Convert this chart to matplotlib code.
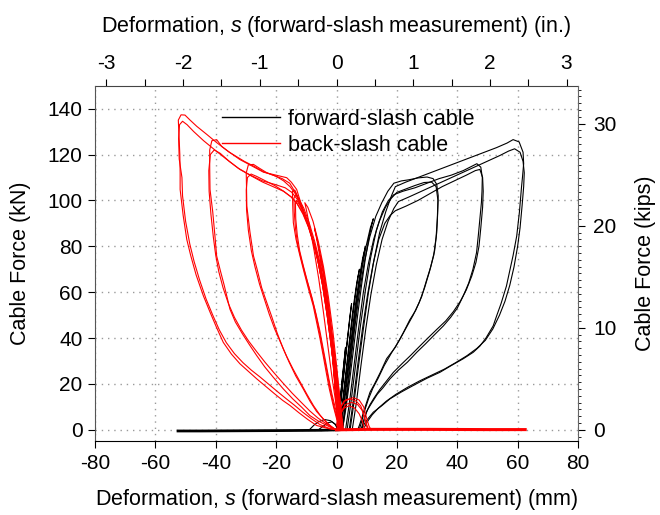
import matplotlib
matplotlib.use('Agg')
import matplotlib.pyplot as plt
from matplotlib.ticker import MultipleLocator
from matplotlib.lines import Line2D

plt.rcParams['font.family'] = ['Liberation Sans', 'DejaVu Sans']
plt.rcParams['mathtext.fontset'] = 'custom'
plt.rcParams['mathtext.it'] = 'Liberation Sans:italic'
plt.rcParams['mathtext.rm'] = 'Liberation Sans'
plt.rcParams['axes.unicode_minus'] = False

# ---------------- data (deformation mm, force kN) ----------------
x_ticks_mm = [-80, -60, -40, -20, 0, 20, 40, 60, 80]
y_ticks_kN = [0, 20, 40, 60, 80, 100, 120, 140]
x_ticks_in = [-3, -2, -1, 0, 1, 2, 3]
y_ticks_kips = [0, 10, 20, 30]
legend_labels = ["forward-slash cable", "back-slash cable"]

# forward-slash cable (black)
fwd_c01 = [(0,0),(0.8,8),(1.6,18),(2.4,28),(3.0,36),(2.6,31),(1.9,22),(1.2,12),(0.5,3),(0,0)]
fwd_c02 = [(0.3,0),(1.2,10),(2.2,22),(3.2,34),(4.2,46),(5.0,55),(4.4,49),(3.5,38),(2.6,27),(1.6,14),(0.8,4),(0.3,0)]
fwd_c03 = [(0.8,0),(1.8,10),(3.0,24),(4.2,38),(5.4,52),(6.6,63),(7.6,70),(7.0,66),(6.0,56),(4.9,44),(3.8,31),(2.6,17),(1.6,6),(0.8,0)]
fwd_c04 = [(1.2,0),(2.4,12),(3.6,26),(4.9,40),(6.2,54),(7.5,66),(8.7,75),(9.6,80),(9.0,76),(8.0,68),(6.8,57),(5.6,44),(4.3,30),(3.0,16),(1.9,5),(1.2,0)]
fwd_c05 = [(1.8,0),(3.0,12),(4.3,27),(5.6,42),(7.0,57),(8.4,70),(9.8,80),(11.2,88),(12.2,92),(11.8,90),(10.8,84),(9.6,75),(8.4,64),(7.1,51),(5.8,37),(4.5,23),(3.2,10),(2.2,2),(1.8,0)]
fwd_a32_1 = [(2.0,0),(3.2,12),(4.6,28),(6.0,44),(7.6,60),(9.2,73),(11.0,84),(13.0,93),(15.0,99),(17.0,104),(19.0,107.5),(21.5,108.5),(24,109),(27,109.8),(30,110.2),(32,109.5),(33.2,107),(33.7,102),(33.5,94),(33.2,86),(32.5,78),(31.2,71),(29.9,65.5),(28.2,58),(26.2,52),(24.3,48),(22,42),(19.5,36),(16.6,31),(14.5,25),(12.6,20),(11.1,16.4),(10,12),(9,8),(8.3,4.8),(7.6,2),(7,0)]
fwd_a32_2 = [(3.0,0),(4.3,12),(5.8,28),(7.3,44),(8.9,60),(10.5,72),(12.3,83),(14.2,91),(16.2,97),(18.2,101),(20,103.5),(23,105),(26,106.5),(29,107.8),(31.5,108),(33,106),(33.6,100),(33.4,92),(33,84),(32.2,76),(30.8,69),(29.2,62),(27.4,55.5),(25.4,50),(23.3,45),(20.8,39),(18.2,33.5),(15.8,28),(13.8,22.5),(12,18),(10.6,13.5),(9.6,9.5),(8.8,6),(8.1,2.5),(7.5,0)]
fwd_a47_1 = [(3.5,0),(4.8,12),(6.3,28),(7.9,45),(9.6,61),(11.3,75),(13.2,87),(15.2,95),(17.2,100),(19,102.5),(22,104),(26,105.5),(30,107.5),(34,109.5),(38,111),(42,113),(45,115),(46.5,116),(47.8,114.5),(48.3,110),(48.2,104),(48,99),(47.5,92),(47,85),(46.4,77.3),(45.2,70),(43.8,64),(42,58.4),(40,53),(37.8,49),(35.4,45.3),(32.5,41.5),(29.5,37.5),(26.6,33.8),(23.5,29.5),(20.5,26),(17.7,22.2),(15.5,18.5),(13.5,15.5),(11.8,12),(10.4,9),(9.4,6),(8.9,3.5),(8.3,1),(7.8,0)]
fwd_a47_2 = [(4.2,0),(5.5,12),(7.0,28),(8.6,44),(10.3,59),(12.1,72),(14.0,83),(16,90),(17.8,93.5),(19.5,95.5),(23,97.5),(27,100),(31,103),(35,106),(39,108.5),(43,111),(46,113),(47.5,113.5),(48.4,110),(48.6,104),(48.4,97),(47.8,88),(47.2,80),(46.2,73),(44.8,67),(43,61),(41,56),(38.7,51.5),(36.2,47.5),(33.4,44),(30.5,40.3),(27.6,36.5),(24.6,32.5),(21.6,28.7),(18.8,25),(16.4,21),(14.3,17.5),(12.5,14),(11.1,11),(10.0,8),(9.3,5),(8.8,2),(8.4,0)]
fwd_a62_1 = [(4.5,0),(5.8,12),(7.3,28),(8.9,44),(10.6,60),(12.4,74),(14.3,86),(16.3,95),(18.2,102),(19.5,106),(23,108),(28,110.5),(33,113),(38,115.5),(43,118),(48,120.5),(53,123),(56.5,125),(58.5,126.5),(60.5,125.5),(61.8,121),(62,116),(61.6,110),(61.3,106),(60.6,95),(59.7,84.5),(58.5,76),(57.5,70),(56.3,62.7),(54.5,55),(53,49.5),(51.9,45.3),(49.5,40),(47.5,36.5),(45.3,33.8),(42,31),(38,28),(34.3,25.1),(30,22.5),(25.4,19.3),(21.5,16.5),(17.7,13.5),(15,10.5),(12.2,7.7),(10.5,5),(8.9,1.9),(8.3,0)]
fwd_a62_2 = [(5.2,0),(6.6,12),(8.1,28),(9.7,44),(11.4,59),(13.2,72),(15.1,83),(17.1,91),(19,96.5),(20.5,99.5),(24,101.5),(29,104.5),(34,107.5),(39,110.5),(44,113.5),(49,116.5),(54,119.5),(57,121.5),(59,122.5),(60.8,121),(61.8,117),(62.2,112),(62,106),(61.5,98),(60.8,88),(60,80),(58.8,71),(57.4,63),(55.8,56),(54,50),(51.8,44),(49.3,39),(46.5,35.5),(43.2,32.3),(39.5,29.3),(35.8,26.5),(31.8,24),(27.5,21.3),(23.5,18.5),(19.7,15.5),(16.5,12.5),(13.9,9.5),(11.8,6.5),(10.2,3.5),(9.2,1),(8.8,0)]
fwd_neg1 = [(-9,0),(-7.5,2),(-6,3.5),(-4,4.5),(-2,4),(-0.5,2.5),(0.5,0)]
fwd_neg2 = [(-6,0),(-4.5,1.5),(-3,3),(-1.5,3.5),(0,2),(1,0)]
fwd_slack = [(0.5,0),(-5,-0.2),(-15,-0.3),(-30,-0.4),(-45,-0.5),(-52.5,-0.5)]

# back-slash cable (red)
bck_c01 = [(0.5,0),(0,10),(-0.6,20),(-1.2,30),(-1.8,38),(-1.4,33),(-0.8,24),(-0.2,13),(0.3,4),(0.5,0)]
bck_c02 = [(1,0),(0.4,12),(-0.4,25),(-1.3,38),(-2.3,50),(-3.2,58),(-2.7,53),(-1.8,43),(-0.9,30),(0,17),(0.7,5),(1,0)]
bck_c03 = [(1.3,0),(0.6,12),(-0.3,26),(-1.4,40),(-2.6,54),(-3.9,66),(-5.2,75),(-4.7,71),(-3.6,61),(-2.4,48),(-1.2,33),(-0.1,18),(0.8,6),(1.3,0)]
bck_c04 = [(1.6,0),(0.8,12),(-0.2,26),(-1.4,41),(-2.8,56),(-4.3,69),(-5.9,80),(-7.3,88),(-6.8,85),(-5.6,76),(-4.3,64),(-2.9,50),(-1.5,35),(-0.2,20),(0.9,7),(1.6,0)]
bck_c05 = [(2,0),(1.2,12),(0.1,27),(-1.2,43),(-2.7,58),(-4.3,71),(-6,82),(-7.8,91),(-9.5,97),(-10.5,99),(-10,96),(-8.8,88),(-7.4,78),(-5.9,66),(-4.4,52),(-2.9,37),(-1.4,22),(0.1,9),(1.3,1),(2,0)]
bck_a13_1 = [(1.5,0),(0.8,8),(-0.2,20),(-1.4,34),(-2.8,48),(-4.3,61),(-5.9,72),(-7.6,81),(-9.4,89),(-11.2,96),(-12.8,101.5),(-13.8,104.5),(-14.6,104),(-14.5,98),(-14.3,90.3),(-13.4,83),(-12.1,75.8),(-10.8,69),(-9.3,61.5),(-7.7,54),(-6.6,47),(-5.5,40),(-4.4,32.3),(-3.4,25),(-2.4,18),(-1.1,10.6),(0,5),(1,1),(1.6,0)]
bck_a13_2 = [(2,0),(1.2,9),(0.2,21),(-1,35),(-2.4,49),(-3.9,62),(-5.5,73),(-7.2,82),(-9,90),(-10.8,96.5),(-12.4,100.5),(-13.5,102.5),(-14.1,101),(-14.0,95),(-13.6,88),(-12.9,81),(-11.6,74),(-10.2,67),(-8.7,60),(-7.2,52.5),(-6.0,45),(-5.0,38),(-3.9,30.5),(-2.9,23.5),(-1.9,16.5),(-0.7,9.5),(0.4,4),(1.4,0.5),(2,0)]
bck_a13_3 = [(2.3,0),(1.5,9),(0.5,21),(-0.7,34),(-2.1,47),(-3.6,59),(-5.2,70),(-6.9,79),(-8.7,87),(-10.5,93.5),(-12.2,98),(-13.2,100),(-13.6,98.5),(-13.5,92),(-13,85),(-12.2,78),(-11,71.5),(-9.6,64.5),(-8.1,57.5),(-6.7,50),(-5.5,43),(-4.5,36),(-3.5,29),(-2.5,22),(-1.5,15.5),(-0.3,9),(0.8,3.5),(1.8,0.5),(2.3,0)]
bck_a27_1 = [(1.5,0),(0.7,9),(-0.4,22),(-1.7,36),(-3.1,50),(-4.6,63),(-6.2,74),(-7.9,83),(-9.7,91),(-11.6,97.5),(-13.4,102.5),(-15.4,106),(-17.5,108.5),(-20,110.5),(-23,112),(-25.5,114),(-27.5,115.7),(-29.2,115.5),(-29.9,112),(-29.8,105),(-29.7,97.5),(-28.7,86.5),(-27.5,75.8),(-26.3,70),(-24.8,62),(-23.1,55.5),(-21.5,49.5),(-19.6,42),(-17.6,35.2),(-15.7,29.5),(-13.5,23.5),(-11,17.8),(-8.8,12.5),(-6.6,8),(-4.4,4.8),(-2.5,2.3),(-1,0.8),(0,0)]
bck_a27_2 = [(2,0),(1.2,9),(0.1,22),(-1.2,36),(-2.6,49),(-4.1,61),(-5.7,72),(-7.4,80.5),(-9.2,88),(-11.1,94),(-13,98.5),(-15,101.5),(-17.5,104),(-20.5,106.5),(-23.5,108.5),(-26.5,110.5),(-28.3,111.5),(-29.5,110),(-29.9,104.5),(-29.8,96),(-29.2,87),(-28.2,78),(-27,71),(-25.5,63.5),(-23.9,57),(-22.3,50.5),(-20.5,44),(-18.5,38),(-16.5,32),(-14.4,26.5),(-12.1,21),(-9.8,15.5),(-7.6,10.5),(-5.4,6.3),(-3.4,3.3),(-1.6,1.2),(0,0)]
bck_a40_1 = [(1.5,0),(0.7,9),(-0.4,22),(-1.7,36),(-3.1,50),(-4.6,63),(-6.2,74),(-7.9,83),(-9.7,91),(-11.6,97.5),(-13.4,103),(-15.5,107.5),(-18,109.5),(-21,111),(-24.2,112.5),(-27.5,115),(-30.5,117),(-33,119),(-35.5,121),(-38,123.5),(-39.7,126.5),(-41.3,126),(-42,122),(-42,114),(-41.9,104.8),(-41,95),(-40.3,85),(-39.7,75.8),(-38.5,69.5),(-37.2,63),(-35.3,52.6),(-33.5,47),(-31,41.5),(-28.8,37),(-26.4,32.3),(-23.8,27.5),(-21,23),(-17.6,17.8),(-14.5,13.5),(-11.5,9.8),(-8.8,6.2),(-6,3.8),(-3.2,1.9),(-1,0.5),(0,0)]
bck_a40_2 = [(2,0),(1.2,9),(0.1,22),(-1.2,36),(-2.6,49),(-4.1,61),(-5.7,72),(-7.4,81),(-9.2,88.5),(-11.1,94.5),(-13,98.5),(-15,101.5),(-17.6,104),(-21,106),(-24.5,108),(-28,110.5),(-32,113.5),(-35.5,117),(-38.5,120.5),(-40.5,122),(-41.8,120),(-42.3,113),(-42.2,104),(-41.6,94),(-40.8,84),(-40,76),(-39,69),(-37.6,62),(-35.8,55),(-33.8,49),(-31.5,43.5),(-29,38.5),(-26.4,34),(-23.7,29.5),(-20.8,25),(-17.8,20.5),(-14.7,16),(-11.7,12),(-8.9,8.3),(-6.2,5.2),(-3.6,2.8),(-1.4,1),(0,0)]
bck_a52_1 = [(1.5,0),(0.7,9),(-0.4,22),(-1.7,36),(-3.1,50),(-4.6,63),(-6.2,74),(-7.9,83),(-9.7,91),(-11.6,98),(-13.2,104.8),(-15,108),(-16.5,109.9),(-20,111),(-24.2,112.3),(-28,115),(-32,117.8),(-36,121.5),(-39.7,125.2),(-43,128.8),(-46.3,132.3),(-48.5,135),(-50.2,137.2),(-51.5,137.3),(-52.4,135),(-52.2,129),(-51.9,120),(-51.8,112),(-51.8,104.8),(-50.8,93.5),(-49.6,83),(-48.3,76),(-46.5,67.5),(-44.1,58.4),(-41.8,51),(-39.7,44.5),(-37.5,38.1),(-34.8,33),(-32,28.8),(-29.2,25.5),(-26.4,22.2),(-23.5,19),(-20.6,15.8),(-17.8,12.8),(-15.4,10.6),(-12.5,7.5),(-9.5,4.5),(-6.6,1.9),(-4,1),(-2.2,0.4),(0,0)]
bck_a52_2 = [(2,0),(1.2,9),(0.1,22),(-1.2,36),(-2.6,49),(-4.1,61),(-5.7,72),(-7.4,81),(-9.2,89),(-11.1,95.5),(-13,100.5),(-14.8,103.5),(-17,105.5),(-20.5,107),(-24.5,108.5),(-28.5,111),(-32.5,114),(-36.5,118),(-40.3,122),(-44,126),(-47.3,130),(-49.5,133),(-51,134.5),(-52,133),(-52.3,127),(-52.1,118),(-51.2,110),(-51.0,102),(-50.0,91),(-48.6,81),(-47.2,73.5),(-45.4,65.5),(-43.2,57),(-41,50),(-38.8,43.5),(-36.5,38),(-33.8,33.2),(-31,29.3),(-28.2,26),(-25.3,23),(-22.4,19.8),(-19.5,16.6),(-16.6,13.5),(-14,10.8),(-11.2,7.7),(-8.3,4.8),(-5.5,2.3),(-2.8,0.8),(0,0)]
bck_pos1 = [(0,2),(1,9),(2.5,12.5),(4.5,13.5),(6.5,12.5),(8,10.5),(9,7),(9.8,3),(10.5,0.5),(11,0)]
bck_pos2 = [(0.5,1),(1.5,8),(3,11),(5,12),(7,11),(8.5,8.5),(9.3,5),(10,1.5),(10.5,0)]
bck_pos3 = [(0,0),(1,6),(2.5,9.5),(4.2,10.5),(6,9.5),(7.5,7),(8.5,4),(9.2,1),(9.8,0)]
bck_pos4 = [(0.3,0),(1.5,10),(3,13),(5.5,14),(7.5,13),(9,10),(10,5),(10.8,1.5),(11.5,0)]
bck_slack = [(0,0),(10,0.2),(30,0.2),(50,0.1),(62.5,0.1)]

fwd_curves = [fwd_c01, fwd_c02, fwd_c03, fwd_c04, fwd_c05, fwd_a32_1, fwd_a32_2,
              fwd_a47_1, fwd_a47_2, fwd_a62_1, fwd_a62_2, fwd_neg1, fwd_neg2]
bck_curves = [bck_c01, bck_c02, bck_c03, bck_c04, bck_c05, bck_a13_1, bck_a13_2, bck_a13_3,
              bck_a27_1, bck_a27_2, bck_a40_1, bck_a40_2, bck_a52_1, bck_a52_2,
              bck_pos1, bck_pos2, bck_pos3, bck_pos4]

KN_PER_KIP = 4.448
MM_PER_IN = 25.4

fig = plt.figure(figsize=(6.6, 5.15), dpi=100)
ax = fig.add_axes([95/660, 1-441.3/515, 483/660, 355.6/515])
ax.set_xlim(-80, 80)
ax.set_ylim(-5, 150)
ax.set_xticks(x_ticks_mm)
ax.set_yticks(y_ticks_kN)
ax.grid(True, color='#9a9a9a', linestyle=(0, (1, 3.5)), linewidth=1.0)
ax.set_axisbelow(True)

def xy(c):
    return [p[0] for p in c], [p[1] for p in c]

for c in fwd_curves:
    ax.plot(*xy(c), color='black', lw=0.8)
ax.plot(*xy(fwd_slack), color='black', lw=2.0)
for c in bck_curves:
    ax.plot(*xy(c), color='#ff0000', lw=0.8)
ax.plot(*xy(bck_slack), color='#ff0000', lw=2.2)

fs = 15
fl = 15.5
ax.tick_params(direction='out', length=5, width=0.8, labelsize=fs, pad=4)
ax.set_xlabel("Deformation, $s$ (forward-slash measurement) (mm)", fontsize=fl, labelpad=10)
ax.set_ylabel("Cable Force (kN)", fontsize=fl, labelpad=12)
for s in ['right', 'top']:
    ax.spines[s].set_visible(False)
ax.spines['left'].set_color('#555555')
ax.spines['bottom'].set_color('black')

secx = ax.secondary_xaxis('top', functions=(lambda v: v / MM_PER_IN, lambda v: v * MM_PER_IN))
secx.set_xticks(x_ticks_in)
secx.xaxis.set_minor_locator(MultipleLocator(0.5))
secx.tick_params(which='both', direction='out', length=5, width=0.8, labelsize=fs, pad=4)
secx.set_xlabel("Deformation, $s$ (forward-slash measurement) (in.)", fontsize=fl, labelpad=16)
secx.spines['top'].set_color('#444444')

secy = ax.secondary_yaxis('right', functions=(lambda v: v / KN_PER_KIP, lambda v: v * KN_PER_KIP))
secy.set_yticks(y_ticks_kips)
secy.yaxis.set_minor_locator(MultipleLocator(2/3))
secy.tick_params(which='major', direction='out', length=5, width=0.8, labelsize=fs, pad=6)
secy.tick_params(which='minor', direction='out', length=2.5, width=0.6)
secy.set_ylabel("Cable Force (kips)", fontsize=fl, labelpad=13)
secy.spines['right'].set_color('#666666')

handles = [Line2D([], [], color='black', lw=1.0), Line2D([], [], color='#ff0000', lw=1.0)]
ax.legend(handles, legend_labels, loc='upper left', bbox_to_anchor=(0.222, 0.99),
          frameon=False, fontsize=fl, handlelength=2.7, handletextpad=0.4, labelspacing=0.25)

fig.savefig('out.png', dpi=100)
